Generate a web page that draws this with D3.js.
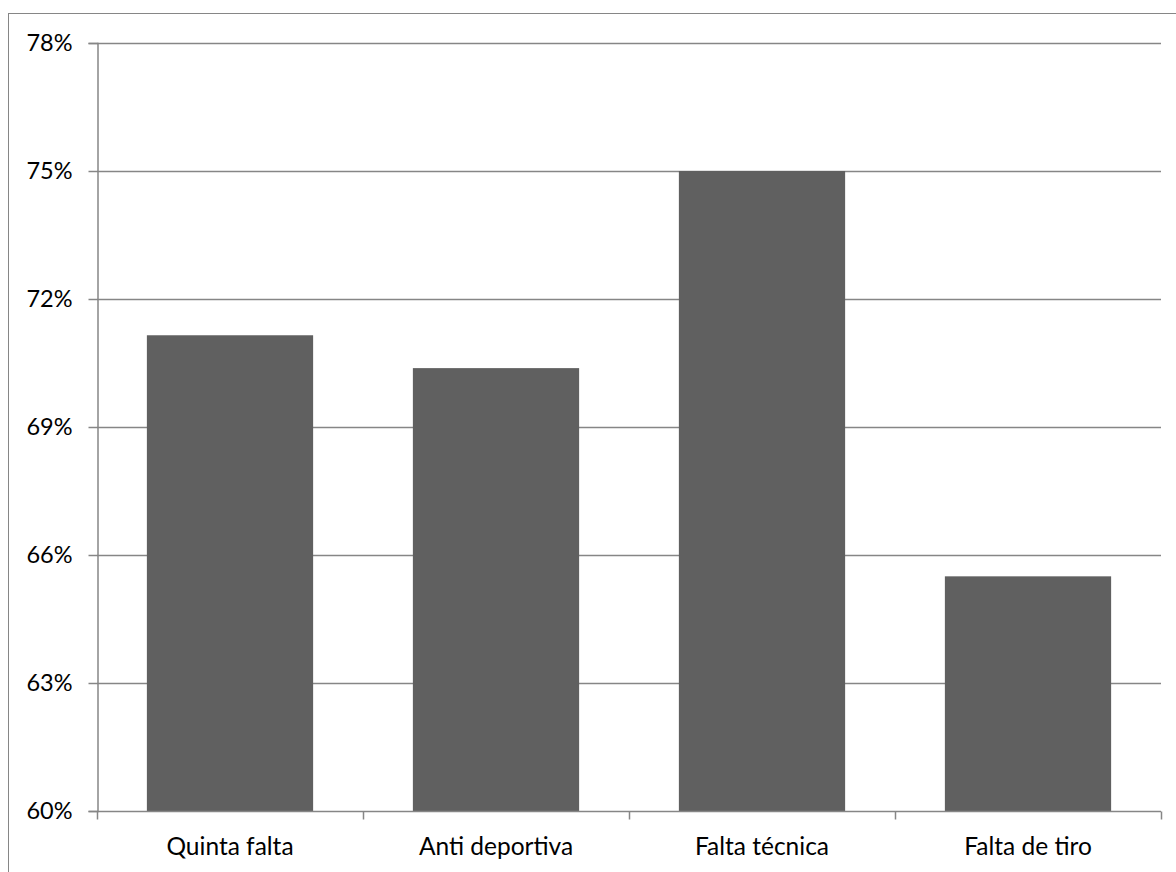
<!DOCTYPE html>
<html>
<head>
<meta charset="utf-8">
<script src="https://cdn.jsdelivr.net/npm/d3@7"></script>
<style>
  html, body { margin: 0; padding: 0; background: #fff; }
  svg { display: block; }
  text { font-family: Lato, "Open Sans", sans-serif; fill: #000; }
</style>
</head>
<body>
<svg id="chart" width="1176" height="872"></svg>
<script>
// Share of free throws made, by type of foul
const categories = ["Quinta falta", "Anti deportiva", "Falta técnica", "Falta de tiro"];
const values = [71.15, 70.38, 75.0, 65.5];
const yTicks = [60, 63, 66, 69, 72, 75, 78];

const W = 1176, H = 872;
const margin = { left: 97, right: 15, top: 43, bottom: 61 };
const fontFamily = "Lato, 'Open Sans', sans-serif";

const svg = d3.select("#chart");

// outer chart frame
svg.append("rect")
  .attr("x", 8.5).attr("y", 13.5)
  .attr("width", W).attr("height", H)
  .attr("fill", "none").attr("stroke", "#868686").attr("stroke-width", 1);

const x = d3.scaleBand()
  .domain(categories)
  .range([margin.left, W - margin.right])
  .paddingInner(0.375)
  .paddingOuter(0.1875);

const y = d3.scaleLinear()
  .domain([60, 78])
  .range([H - margin.bottom, margin.top]);

const gridColor = "#868686";

// horizontal gridlines
svg.append("g")
  .selectAll("line")
  .data(yTicks.filter(t => t !== 60))
  .join("line")
  .attr("x1", margin.left).attr("x2", W - margin.right)
  .attr("y1", d => Math.round(y(d)) + 0.5).attr("y2", d => Math.round(y(d)) + 0.5)
  .attr("stroke", gridColor).attr("stroke-width", 1.5);

// bars
svg.append("g")
  .selectAll("rect")
  .data(categories)
  .join("rect")
  .attr("x", d => x(d))
  .attr("width", x.bandwidth())
  .attr("y", (d, i) => y(values[i]))
  .attr("height", (d, i) => y(60) - y(values[i]))
  .attr("fill", "#606060");

// y axis
const yAxis = d3.axisLeft(y)
  .tickValues(yTicks)
  .tickSize(9)
  .tickPadding(16)
  .tickFormat(d => d + "%");

const gy = svg.append("g")
  .attr("transform", `translate(${margin.left + 0.5},0)`)
  .call(yAxis);
gy.select(".domain").attr("stroke", gridColor).attr("stroke-width", 1.5);
gy.selectAll(".tick line").attr("stroke", gridColor).attr("stroke-width", 1.5);
gy.selectAll(".tick text").attr("font-size", 23.5).attr("fill", "#000")
  .attr("font-family", fontFamily);

// x axis with ticks at band boundaries
const xAxisY = Math.round(y(60)) + 0.5;
svg.append("line")
  .attr("x1", margin.left).attr("x2", W - margin.right)
  .attr("y1", xAxisY).attr("y2", xAxisY)
  .attr("stroke", gridColor).attr("stroke-width", 1.5);

const boundaries = d3.range(categories.length + 1)
  .map(i => margin.left + i * (W - margin.right - margin.left) / categories.length);
svg.append("g")
  .selectAll("line")
  .data(boundaries)
  .join("line")
  .attr("x1", d => Math.round(d) + 0.5).attr("x2", d => Math.round(d) + 0.5)
  .attr("y1", xAxisY).attr("y2", xAxisY + 8)
  .attr("stroke", gridColor).attr("stroke-width", 1.5);

svg.append("g")
  .selectAll("text")
  .data(categories)
  .join("text")
  .attr("x", d => x(d) + x.bandwidth() / 2)
  .attr("y", xAxisY + 35)
  .attr("dy", "0.35em")
  .attr("text-anchor", "middle")
  .attr("font-size", 24.5)
  .attr("font-family", fontFamily)
  .text(d => d);
</script>
</body>
</html>
